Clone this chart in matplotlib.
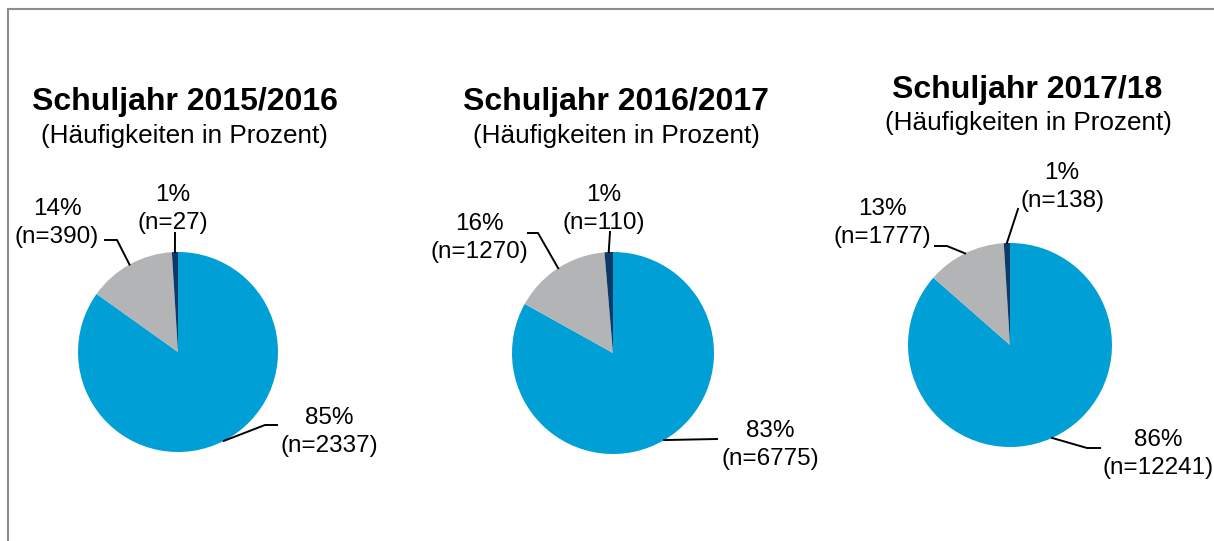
import numpy as np
import matplotlib.pyplot as plt
from matplotlib.lines import Line2D

plt.rcParams['font.family'] = ['Liberation Sans', 'DejaVu Sans']

# Data: counts per school year (blue, gray, dark navy)
years = ['Schuljahr 2015/2016', 'Schuljahr 2016/2017', 'Schuljahr 2017/18']
subtitle = '(Häufigkeiten in Prozent)'
counts_1516 = [2337, 390, 27]
counts_1617 = [6775, 1270, 110]
counts_1718 = [12241, 1777, 138]
colors = ['#009fd6', '#b2b4b6', '#0b3a68']

W, H = 1214, 541


def py(y):
    # image pixel row -> axes y
    return H - y


# layout in image pixels
centers = [(178, 352), (613, 353), (1010, 345)]
radii = [100, 101, 102]
title_pos = [(185, 102), (616, 102), (1027, 90)]
sub_pos = [(184, 136), (616, 136), (1028, 123)]
# per wedge: (text center, elbow, line end)
label_layout = [
    [((329, 432), (265, 425), (277, 425)),
     ((57, 223), (117, 240), (105, 240)),
     ((173, 209), (175, 233), (175, 233))],
    [((770, 445), (717, 439), (717, 439)),
     ((479, 238), (538, 233), (528, 233)),
     ((604, 209), (610, 232), (610, 232))],
    [((1158, 454), (1087, 448), (1100, 448)),
     ((882, 223), (947, 246), (935, 246)),
     ((1062, 187), (1018, 209), (1018, 209))],
]

fig = plt.figure(figsize=(W / 100, H / 100), dpi=100)
ax = fig.add_axes([0, 0, 1, 1])

all_counts = [counts_1516, counts_1617, counts_1718]
for k, counts in enumerate(all_counts):
    cx, cy = centers[k]
    r = radii[k]
    wedges, _ = ax.pie(counts, colors=colors, startangle=90, counterclock=False,
                       center=(cx, py(cy)), radius=r,
                       wedgeprops=dict(linewidth=0))
    total = sum(counts)
    for w, n, (tpos, elbow, end) in zip(wedges, counts, label_layout[k]):
        mid = np.deg2rad((w.theta1 + w.theta2) / 2)
        rx = cx + r * np.cos(mid)
        ry = py(cy) + r * np.sin(mid)
        ax.add_line(Line2D([rx, elbow[0], end[0]], [ry, py(elbow[1]), py(end[1])],
                           color='black', lw=1.4))
        pct = round(100 * n / total)
        ax.text(tpos[0], py(tpos[1]), f'{pct}%\n(n={n})', ha='center', va='center',
                fontsize=17.5, linespacing=1.38)
    ax.text(title_pos[k][0], py(title_pos[k][1]), years[k], ha='center', va='center',
            fontsize=23, fontweight='bold')
    ax.text(sub_pos[k][0], py(sub_pos[k][1]), subtitle, ha='center', va='center',
            fontsize=18.8)

# outer frame (top and left edges)
ax.add_line(Line2D([8, W], [py(9), py(9)], color='#8c8c8c', lw=1.5))
ax.add_line(Line2D([8, 8], [py(9), 0], color='#8c8c8c', lw=1.5))

ax.set_xlim(0, W)
ax.set_ylim(0, H)
ax.set_aspect('auto')
ax.axis('off')

fig.savefig('out.png', dpi=100)
